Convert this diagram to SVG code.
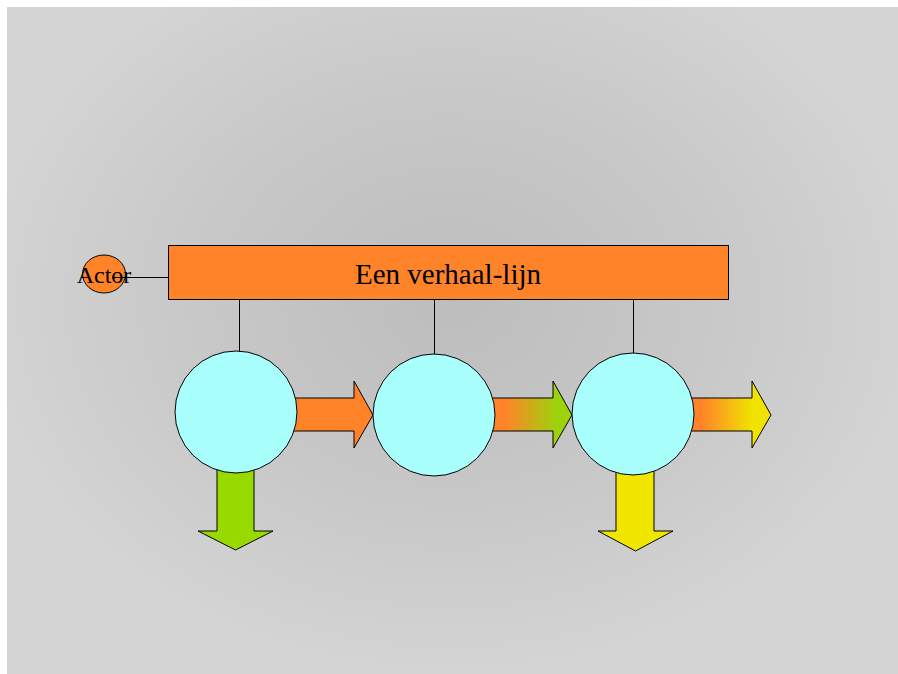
<svg xmlns="http://www.w3.org/2000/svg" width="898" height="674" viewBox="0 0 898 674">
  <defs>
    <radialGradient id="bg" gradientUnits="userSpaceOnUse" cx="450" cy="300" r="470" gradientTransform="translate(450 300) scale(1 0.8) translate(-450 -300)">
      <stop offset="0" stop-color="#bdbdbd"/>
      <stop offset="0.55" stop-color="#c8c8c8"/>
      <stop offset="1" stop-color="#d4d4d4"/>
    </radialGradient>
    <linearGradient id="toGreen" gradientUnits="userSpaceOnUse" x1="494" y1="0" x2="572" y2="0">
      <stop offset="0.15" stop-color="#ff8429"/>
      <stop offset="0.8" stop-color="#9cd30c"/>
    </linearGradient>
    <linearGradient id="toYellow" gradientUnits="userSpaceOnUse" x1="694" y1="0" x2="771" y2="0">
      <stop offset="0.1" stop-color="#ff8429"/>
      <stop offset="0.75" stop-color="#f0e300"/>
    </linearGradient>
  </defs>
  <style>
    .shape { stroke: #000; stroke-width: 1; }
    .link { stroke: #000; stroke-width: 1; fill: none; }
    .bar { fill: #ff8429; }
    .stage { fill: #a8fffc; }
    .lbl { font-family: "Liberation Serif", "Times New Roman", serif; fill: #000; text-anchor: middle; }
  </style>

  <rect x="7" y="7" width="891" height="667" fill="url(#bg)"/>

  <g id="connectors">
    <line class="link" x1="112" y1="277.5" x2="168" y2="277.5"/>
    <line class="link" x1="239.5" y1="299" x2="239.5" y2="352"/>
    <line class="link" x1="434.5" y1="299" x2="434.5" y2="354"/>
    <line class="link" x1="633.5" y1="299" x2="633.5" y2="354"/>
  </g>

  <g id="actor">
    <ellipse class="shape bar" cx="104" cy="274" rx="21.5" ry="19"/>
    <line class="link" x1="112" y1="277.5" x2="126" y2="277.5"/>
    <text class="lbl" x="104" y="283" font-size="24">Actor</text>
  </g>

  <g id="storyline">
    <rect class="shape bar" x="168.5" y="245.5" width="560" height="54"/>
    <text class="lbl" x="448" y="284" font-size="29">Een verhaal-lijn</text>
  </g>

  <!-- flow arrows, drawn under the stage circles -->
  <g id="arrow-1">
    <polygon class="shape" fill="#ff8429" points="288,398 354,398 354,381 373,415 354,448 354,431 288,431"/>
  </g>
  <g id="arrow-2">
    <polygon class="shape" fill="url(#toGreen)" points="486,398 553,398 553,381 572,415 553,448 553,431 486,431"/>
  </g>
  <g id="arrow-3">
    <polygon class="shape" fill="url(#toYellow)" points="686,398 752,398 752,381 771,415 752,448 752,431 686,431"/>
  </g>
  <g id="out-1">
    <polygon class="shape" fill="#98da00" points="217,462 254,462 254,531 273,531 235.5,550 198,531 217,531"/>
  </g>
  <g id="out-3">
    <polygon class="shape" fill="#f0e600" points="616,462 654,462 654,531 673,531 635.5,551 598,531 616,531"/>
  </g>

  <g id="stage-1">
    <circle class="shape stage" cx="236" cy="412" r="61"/>
  </g>
  <g id="stage-2">
    <circle class="shape stage" cx="434" cy="415" r="61"/>
  </g>
  <g id="stage-3">
    <circle class="shape stage" cx="633" cy="414" r="61"/>
  </g>
</svg>
